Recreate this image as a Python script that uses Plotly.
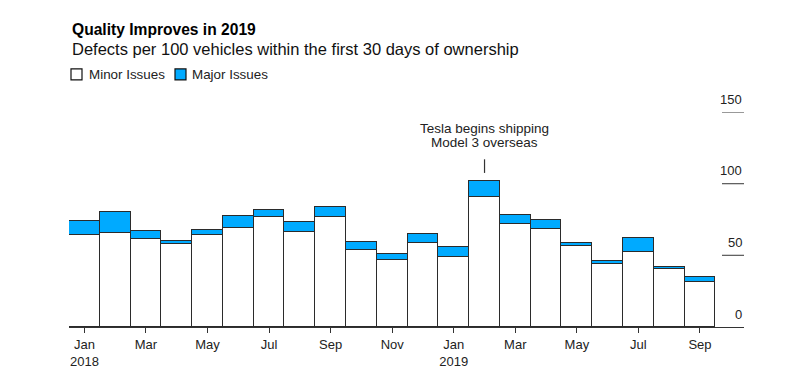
import plotly.graph_objects as go

months = ["Jan 2018", "Feb 2018", "Mar 2018", "Apr 2018", "May 2018", "Jun 2018",
          "Jul 2018", "Aug 2018", "Sep 2018", "Oct 2018", "Nov 2018", "Dec 2018",
          "Jan 2019", "Feb 2019", "Mar 2019", "Apr 2019", "May 2019", "Jun 2019",
          "Jul 2019", "Aug 2019", "Sep 2019"]
minor_issues = [63.9, 65.3, 61.3, 58.0, 63.9, 69.2, 76.7, 66.0, 76.9, 53.6, 46.4, 58.7,
                49.0, 90.9, 71.8, 68.3, 56.4, 43.8, 52.4, 40.6, 31.5]
major_issues = [10.2, 14.7, 5.8, 2.1, 3.9, 8.2, 4.9, 7.0, 6.6, 5.8, 4.6, 5.9,
                6.7, 10.8, 6.5, 6.1, 1.9, 2.4, 9.8, 1.6, 3.5]
x_tick_vals = ["Jan 2018", "Mar 2018", "May 2018", "Jul 2018", "Sep 2018", "Nov 2018",
               "Jan 2019", "Mar 2019", "May 2019", "Jul 2019", "Sep 2019"]
x_tick_text = ["Jan<br>2018", "Mar", "May", "Jul", "Sep", "Nov",
               "Jan<br>2019", "Mar", "May", "Jul", "Sep"]
y_ticks = [0, 50, 100, 150]
note_month = "Feb 2019"
note_lines = ["Tesla begins shipping", "Model 3 overseas"]

BLUE = "#00aaff"
EDGE = "#2b2b2b"
FONT = "Liberation Sans, Arial, sans-serif"

OFF = 8  # page body margin offset
W, H = 800, 383
ML = 69 - OFF
MT = 112 - OFF
MR = W - (744 - OFF)
MB = H - (326.7 - OFF)
PW, PH = W - ML - MR, H - MT - MB


def px(x):
    return (x - OFF - ML) / PW


def py(y):
    return (H - MB - (y - OFF)) / PH


fig = go.Figure()
fig.add_trace(go.Bar(x=months, y=minor_issues, name="Minor Issues",
                     marker=dict(color="white", line=dict(color=EDGE, width=1.2)),
                     showlegend=False))
fig.add_trace(go.Bar(x=months, y=major_issues, name="Major Issues",
                     marker=dict(color=BLUE, line=dict(color=EDGE, width=1.2)),
                     showlegend=False))

shapes = []
annotations = []

# y-axis tick labels with short rules on the right
for v in y_ticks:
    if v > 0:
        shapes.append(dict(type="line", xref="paper", yref="y", x0=px(722), x1=1,
                           y0=v, y1=v, line=dict(color="#555", width=1.2)))
    annotations.append(dict(xref="paper", yref="y", x=1, y=v, xanchor="right",
                            yanchor="middle", yshift=13, showarrow=False,
                            text=str(v), font=dict(size=13, color="#222", family=FONT)))

# annotation for Feb 2019
shapes.append(dict(type="line", xref="x", yref="y", x0=note_month, x1=note_month,
                   y0=107.5, y1=117, line=dict(color="#333", width=1.2)))
annotations.append(dict(xref="x", yref="paper", x=note_month, y=py(128),
                        yanchor="middle", showarrow=False, text=note_lines[0],
                        font=dict(size=13.5, color="#222", family=FONT)))
annotations.append(dict(xref="x", yref="paper", x=note_month, y=py(142),
                        yanchor="middle", showarrow=False, text=note_lines[1],
                        font=dict(size=13.5, color="#222", family=FONT)))

# title & subtitle
annotations.append(dict(xref="paper", yref="paper", x=px(70), y=py(30),
                        xanchor="left", yanchor="middle", showarrow=False,
                        text="<b>Quality Improves in 2019</b>",
                        font=dict(size=15.6, color="#000", family=FONT)))
annotations.append(dict(xref="paper", yref="paper", x=px(70), y=py(49.5),
                        xanchor="left", yanchor="middle", showarrow=False,
                        text="Defects per 100 vehicles within the first 30 days of ownership",
                        font=dict(size=16.5, color="#111", family=FONT)))

# legend
legend_items = [("Minor Issues", "white", 71, 87), ("Major Issues", BLUE, 175, 190)]
for label, col, bx, tx in legend_items:
    shapes.append(dict(type="rect", xref="paper", yref="paper", x0=px(bx), x1=px(bx + 11),
                       y0=py(80), y1=py(69), fillcolor=col, line=dict(color="#111", width=1.2)))
    annotations.append(dict(xref="paper", yref="paper", x=px(tx), y=py(74.5),
                            xanchor="left", yanchor="middle", showarrow=False, text=label,
                            font=dict(size=13.4, color="#222", family=FONT)))

fig.update_layout(
    width=W, height=H,
    margin=dict(l=ML, r=MR, t=MT, b=MB, pad=0),
    barmode="stack", bargap=0,
    plot_bgcolor="white", paper_bgcolor="white",
    font=dict(family=FONT, size=13, color="#222"),
    shapes=shapes, annotations=annotations,
    xaxis=dict(type="category", range=[-0.5, 21.43], tickmode="array",
               tickvals=x_tick_vals, ticktext=x_tick_text, ticks="outside",
               ticklen=5, tickwidth=1, tickcolor="#333", showline=True,
               linecolor="#333", linewidth=1.2, showgrid=False, zeroline=False,
               tickfont=dict(size=13, color="#222", family=FONT)),
    yaxis=dict(range=[0, 150], showticklabels=False, showgrid=False,
               zeroline=False, ticks=""),
)

fig.write_html("out.html")
